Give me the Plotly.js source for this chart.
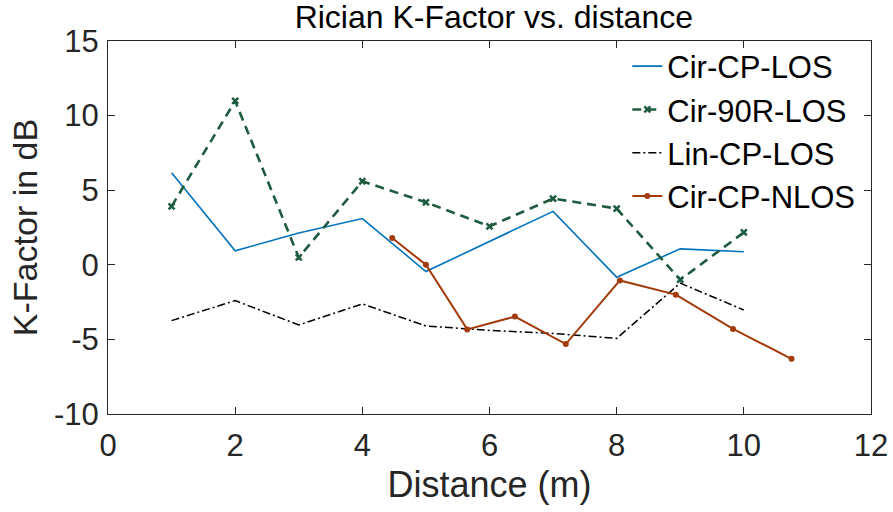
<!DOCTYPE html>
<html>
<head>
<meta charset="utf-8">
<script src="https://cdn.plot.ly/plotly-3.0.1.min.js"></script>
<style>html,body{margin:0;padding:0;background:#fff;}#chart{width:893px;height:512px;}</style>
</head>
<body>
<div id="chart"></div>
<script>
const distance = [1, 2, 3, 4, 5, 6, 7, 8, 9, 10];
const cirCpLos = [6.17, 0.94, 2.13, 3.1, -0.45, 1.57, 3.58, -0.83, 1.07, 0.87];
const cir90rLos = [3.92, 10.98, 0.49, 5.6, 4.19, 2.58, 4.44, 3.77, -1.0, 2.17];
const linCpLos = [-3.74, -2.4, -4.03, -2.62, -4.1, -4.4, -4.6, -4.93, -1.23, -3.03];
const nlosDistance = [4.47, 5.0, 5.65, 6.4, 7.2, 8.05, 8.93, 9.83, 10.75];
const cirCpNlos = [1.79, 0.0, -4.33, -3.47, -5.31, -1.05, -2.0, -4.3, -6.3];
const xTicks = [0, 2, 4, 6, 8, 10, 12];
const yTicks = [-10, -5, 0, 5, 10, 15];

const FONT = 'Liberation Sans, Arial, sans-serif';
const traces = [
  {x: distance, y: cirCpLos, name: 'Cir-CP-LOS', mode: 'lines',
   line: {color: '#0072BD', width: 1.6}},
  {x: distance, y: cir90rLos, name: 'Cir-90R-LOS', mode: 'lines+markers',
   line: {color: '#1F5C3F', width: 2.6, dash: '9px,6px'},
   marker: {symbol: 'x-thin-open', size: 6, color: '#1F5C3F', line: {width: 2.5, color: '#1F5C3F'}}},
  {x: distance, y: linCpLos, name: 'Lin-CP-LOS', mode: 'lines',
   line: {color: '#000000', width: 1.5, dash: '8px,3px,2px,3px'}},
  {x: nlosDistance, y: cirCpNlos, name: 'Cir-CP-NLOS', mode: 'lines+markers',
   line: {color: '#A33A0A', width: 2}, marker: {symbol: 'circle', size: 6, color: '#A33A0A'}}
];

const axisCommon = {
  showline: true, linecolor: '#262626', linewidth: 1, mirror: 'ticks',
  ticks: 'inside', ticklen: 7, tickwidth: 1, tickcolor: '#262626',
  showgrid: false, zeroline: false,
  tickfont: {family: FONT, size: 31, color: '#262626'}
};

const layout = {
  width: 893, height: 512,
  margin: {l: 108, r: 22, t: 41, b: 98},
  paper_bgcolor: '#ffffff', plot_bgcolor: '#ffffff',
  showlegend: true,
  title: {text: 'Rician K-Factor vs. distance', font: {family: FONT, size: 32, color: '#000000'},
          x: 0.553, xanchor: 'center', y: 0.968, yanchor: 'middle'},
  xaxis: Object.assign({}, axisCommon, {
    range: [0, 12], tickvals: xTicks, ticktext: xTicks.map(String),
    ticklabelstandoff: 4,
    title: {text: 'Distance (m)', font: {family: FONT, size: 36, color: '#262626'}, standoff: 9}
  }),
  yaxis: Object.assign({}, axisCommon, {
    range: [-10, 15], tickvals: yTicks, ticktext: yTicks.map(String),
    ticklabelstandoff: 2,
    title: {text: 'K-Factor in dB', font: {family: FONT, size: 34, color: '#262626'}, standoff: 6}
  }),
  legend: {x: 0.986, xanchor: 'right', y: 1.004, yanchor: 'top',
           bgcolor: 'rgba(255,255,255,0)', borderwidth: 0,
           font: {family: FONT, size: 31, color: '#000000'}, itemwidth: 30, tracegroupgap: 0}
};

Plotly.newPlot('chart', traces, layout, {staticPlot: true, displayModeBar: false});
</script>
</body>
</html>
